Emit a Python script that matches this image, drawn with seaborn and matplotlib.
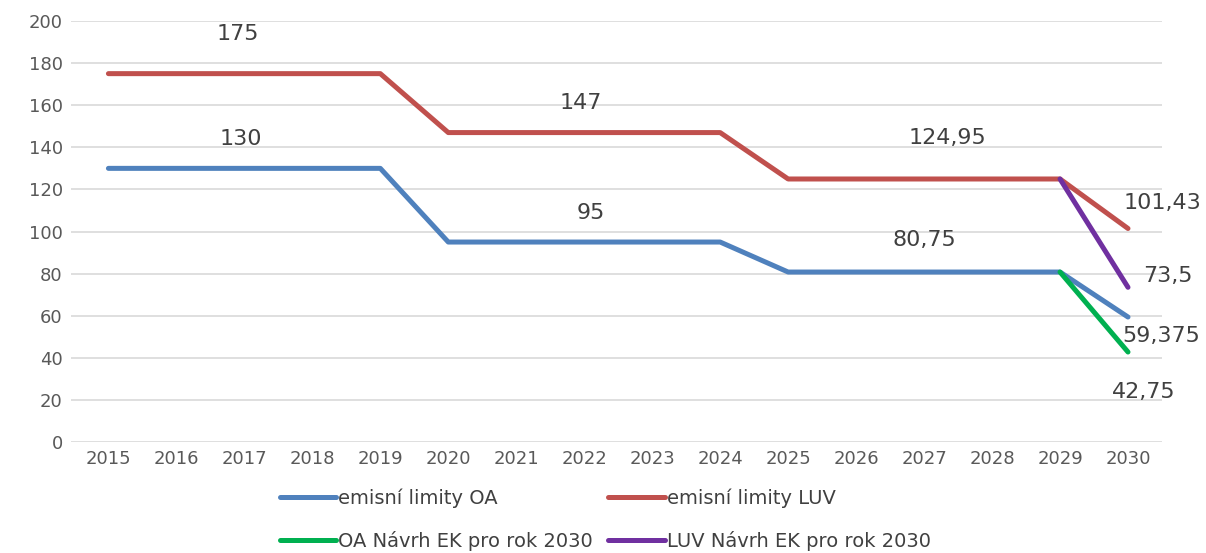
import matplotlib
matplotlib.use("Agg")
import matplotlib.pyplot as plt
import seaborn as sns
import pandas as pd

# ==============================
# data
# ==============================
years = list(range(2015, 2031))
oa = [130, 130, 130, 130, 130, 95, 95, 95, 95, 95, 80.75, 80.75, 80.75, 80.75, 80.75, 59.375]
luv = [175, 175, 175, 175, 175, 147, 147, 147, 147, 147, 124.95, 124.95, 124.95, 124.95, 124.95, 101.43]
oa_ek_years = [2029, 2030]
oa_ek = [80.75, 42.75]
luv_ek_years = [2029, 2030]
luv_ek = [124.95, 73.5]

names = ["emisní limity OA", "emisní limity LUV", "OA Návrh EK pro rok 2030", "LUV Návrh EK pro rok 2030"]
colors = ["#4F81BD", "#C0504D", "#00B050", "#7030A0"]

df = pd.concat([
    pd.DataFrame({"rok": years, "hodnota": oa, "serie": names[0]}),
    pd.DataFrame({"rok": years, "hodnota": luv, "serie": names[1]}),
    pd.DataFrame({"rok": oa_ek_years, "hodnota": oa_ek, "serie": names[2]}),
    pd.DataFrame({"rok": luv_ek_years, "hodnota": luv_ek, "serie": names[3]}),
])

# labels: (text, value, x position, pixel offset x, pixel offset y)
labels = [
    ("175", 175, 2016.9, 0, 40),
    ("130", 130, 2016.95, 0, 29),
    ("147", 147, 2021.95, 0, 30),
    ("95", 95, 2022.1, 0, 29),
    ("124,95", 124.95, 2027.34, 0, 41),
    ("80,75", 80.75, 2027.0, 0, 32),
    ("101,43", 101.43, 2030, 34, 26),
    ("73,5", 73.5, 2030, 40, 11),
    ("59,375", 59.375, 2030, 33, -19),
    ("42,75", 42.75, 2030, 16, -40),
]

# ==============================
# plot
# ==============================
sns.set_theme(style="white")
plt.rcParams["font.family"] = ["DejaVu Sans"]

fig = plt.figure(figsize=(12.06, 5.53), dpi=100)
ax = fig.add_axes([0.0589, 0.2007, 0.9046, 0.7613])

sns.lineplot(data=df, x="rok", y="hodnota", hue="serie", hue_order=names,
             palette=colors, linewidth=3.6, ax=ax, legend=False, sort=False)
for line in ax.lines:
    line.set_solid_capstyle("round")

ax.set_xlim(2014.45, 2030.5)
ax.set_ylim(0, 200)
ax.set_yticks(range(0, 201, 20))
ax.set_xticks(years)
ax.set_xlabel("")
ax.set_ylabel("")
ax.grid(axis="y", color="#D9D9D9", linewidth=1.2)
ax.set_axisbelow(True)
for s in ax.spines.values():
    s.set_visible(False)
ax.tick_params(axis="both", length=0, labelsize=13, colors="#595959", pad=6)

for txt, val, xpos, dx, dy in labels:
    ax.annotate(txt, (xpos, val), xytext=(dx, dy), textcoords="offset pixels",
                ha="center", va="center", fontsize=16, color="#404040")

# legend: column-wise fill, so order gives rows OA/LUV and the two proposals
order = [0, 2, 1, 3]
handles = [plt.Line2D([], [], color=colors[i], linewidth=3.6, solid_capstyle="round") for i in order]
fig.legend(handles, [names[i] for i in order], loc="upper left",
           bbox_to_anchor=(0.2239, 0.135), ncol=2, frameon=False,
           fontsize=14, handlelength=2.9, handletextpad=0.1, columnspacing=0.8,
           labelspacing=1.2, borderpad=0, labelcolor="#404040")

fig.savefig("out.png", dpi=100)
